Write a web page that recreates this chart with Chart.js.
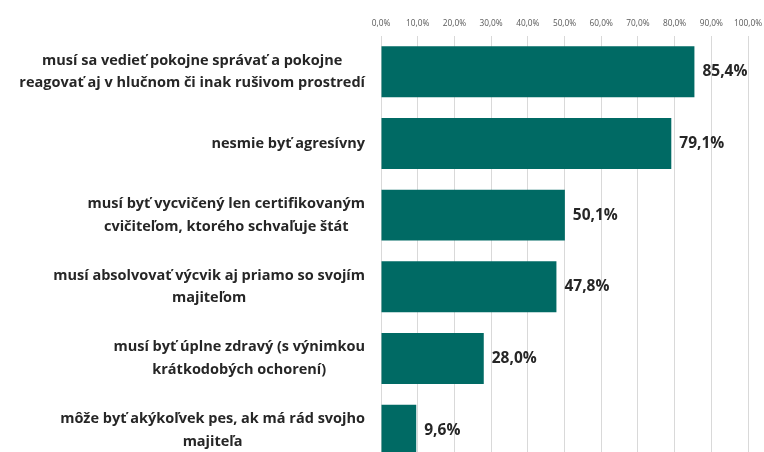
<!DOCTYPE html>
<html>
<head>
<meta charset="utf-8">
<script src="https://cdn.jsdelivr.net/npm/chart.js@4/dist/chart.umd.min.js"></script>
<style>
  html, body { margin: 0; padding: 0; background: #fff; overflow: hidden; }
  #wrap { width: 764px; height: 470px; position: relative; }
</style>
</head>
<body>
<div id="wrap"><canvas id="chart"></canvas></div>
<script>
// --- DATA ---
const categories = [
    ['musí sa vedieť pokojne správať a pokojne', 'reagovať aj v hlučnom či inak rušivom prostredí'],
    ['nesmie byť agresívny'],
    ['musí byť vycvičený len certifikovaným', 'cvičiteľom, ktorého schvaľuje štát'],
    ['musí absolvovať výcvik aj priamo so svojím', 'majiteľom'],
    ['musí byť úplne zdravý (s výnimkou', 'krátkodobých ochorení)'],
    ['môže byť akýkoľvek pes, ak má rád svojho', 'majiteľa']
];
const values = [85.4, 79.1, 50.1, 47.8, 28.0, 9.6];
const tickValues = [0, 10, 20, 30, 40, 50, 60, 70, 80, 90, 100];

const fmtPct = (v) => v.toFixed(1).replace('.', ',') + '%';

const FONT = '"Open Sans", "Noto Sans", sans-serif';
const TEXT = '#262626';

// --- PLUGIN: category labels (lines centred, block right aligned) + value labels ---
const labelPlugin = {
    id: 'labels',
    afterDatasetsDraw(chart) {
        const ctx = chart.ctx;
        const yScale = chart.scales.y;
        const meta = chart.getDatasetMeta(0);
        ctx.save();

        // category labels
        ctx.font = 'bold 14.5px ' + FONT;
        ctx.fillStyle = TEXT;
        ctx.textAlign = 'center';
        ctx.textBaseline = 'middle';
        const rightEdge = 365;
        const lineH = 22.7;
        categories.forEach((lines, i) => {
            const yc = yScale.getPixelForTick(i);
            const w = Math.max(...lines.map(l => ctx.measureText(l).width));
            const xc = rightEdge - w / 2;
            const y0 = yc - (lines.length - 1) * lineH / 2;
            lines.forEach((l, k) => ctx.fillText(l, xc, y0 + k * lineH));
        });

        // value labels
        ctx.font = 'bold 15.5px ' + FONT;
        ctx.textAlign = 'left';
        meta.data.forEach((bar, i) => {
            ctx.fillText(fmtPct(values[i]), bar.x + 8, bar.y);
        });
        ctx.restore();
    }
};

new Chart(document.getElementById('chart'), {
    type: 'bar',
    data: {
        labels: categories,
        datasets: [{
            data: values,
            backgroundColor: '#006A64',
            barPercentage: 0.71,
            categoryPercentage: 1
        }]
    },
    options: {
        indexAxis: 'y',
        responsive: true,
        maintainAspectRatio: false,
        animation: false,
        layout: { padding: { left: 381, right: 16, top: 12, bottom: 4 } },
        plugins: {
            legend: { display: false },
            tooltip: { enabled: false }
        },
        scales: {
            x: {
                position: 'top',
                min: 0,
                max: 100,
                afterBuildTicks: (axis) => { axis.ticks = tickValues.map(v => ({ value: v })); },
                // the last tick label may hang into the right margin
                afterFit: (axis) => { axis.paddingRight = 14; },
                ticks: {
                    callback: (v) => fmtPct(v),
                    font: { family: FONT, size: 8.3 },
                    color: '#595959',
                    padding: 7,
                    maxRotation: 0
                },
                grid: { color: '#d9d9d9', drawTicks: false },
                border: { display: false }
            },
            y: {
                display: false
            }
        }
    },
    plugins: [labelPlugin]
});
</script>
</body>
</html>
